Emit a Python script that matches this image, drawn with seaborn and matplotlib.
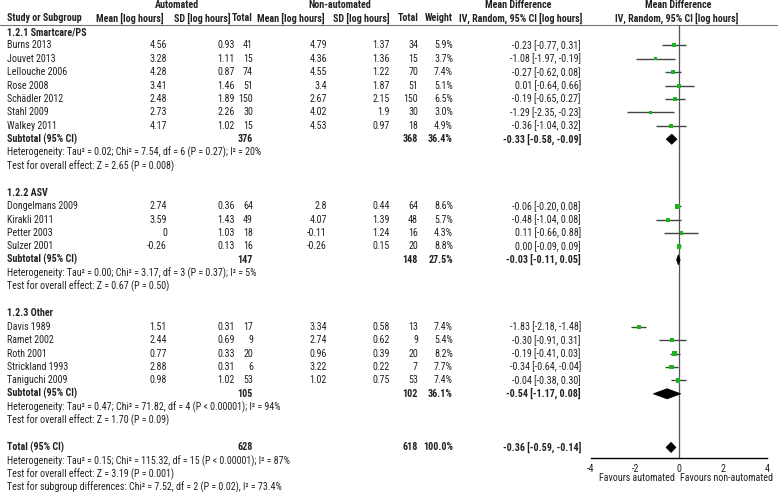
import numpy as np
import pandas as pd
import seaborn as sns
import matplotlib.pyplot as plt
from matplotlib.patches import Polygon
from matplotlib import font_manager

# data
group_names = ["1.2.1 Smartcare/PS", "1.2.2 ASV", "1.2.3 Other"]
group_sizes = [7, 4, 5]
studies = ["Burns 2013", "Jouvet 2013", "Lellouche 2006", "Rose 2008", "Schädler 2012", "Stahl 2009", "Walkey 2011",
           "Dongelmans 2009", "Kirakli 2011", "Petter 2003", "Sulzer 2001",
           "Davis 1989", "Ramet 2002", "Roth 2001", "Strickland 1993", "Taniguchi 2009"]
auto_mean = [4.56, 3.28, 4.28, 3.41, 2.48, 2.73, 4.17, 2.74, 3.59, 0, -0.26, 1.51, 2.44, 0.77, 2.88, 0.98]
auto_sd = [0.93, 1.11, 0.87, 1.46, 1.89, 2.26, 1.02, 0.36, 1.43, 1.03, 0.13, 0.31, 0.69, 0.33, 0.31, 1.02]
auto_n = [41, 15, 74, 51, 150, 30, 15, 64, 49, 18, 16, 17, 9, 20, 6, 53]
non_mean = [4.79, 4.36, 4.55, 3.4, 2.67, 4.02, 4.53, 2.8, 4.07, -0.11, -0.26, 3.34, 2.74, 0.96, 3.22, 1.02]
non_sd = [1.37, 1.36, 1.22, 1.87, 2.15, 1.9, 0.97, 0.44, 1.39, 1.24, 0.15, 0.58, 0.62, 0.39, 0.22, 0.75]
non_n = [34, 15, 70, 51, 150, 30, 18, 64, 48, 16, 20, 13, 9, 20, 7, 53]
weight = [5.9, 3.7, 7.4, 5.1, 6.5, 3.0, 4.9, 8.6, 5.7, 4.3, 8.8, 7.4, 5.4, 8.2, 7.7, 7.4]
md = [-0.23, -1.08, -0.27, 0.01, -0.19, -1.29, -0.36, -0.06, -0.48, 0.11, 0.00, -1.83, -0.30, -0.19, -0.34, -0.04]
md_lo = [-0.77, -1.97, -0.62, -0.64, -0.65, -2.35, -1.04, -0.20, -1.04, -0.66, -0.09, -2.18, -0.91, -0.41, -0.64, -0.38]
md_hi = [0.31, -0.19, 0.08, 0.66, 0.27, -0.23, 0.32, 0.08, 0.08, 0.88, 0.09, -1.48, 0.31, 0.03, -0.04, 0.30]

sub_auto_n = [376, 147, 105]
sub_non_n = [368, 148, 102]
sub_weight = [36.4, 27.5, 36.1]
sub_md = [-0.33, -0.03, -0.54]
sub_lo = [-0.58, -0.11, -1.17]
sub_hi = [-0.09, 0.05, 0.08]
sub_het = ["Heterogeneity: Tau² = 0.02; Chi² = 7.54, df = 6 (P = 0.27); I² = 20%",
           "Heterogeneity: Tau² = 0.00; Chi² = 3.17, df = 3 (P = 0.37); I² = 5%",
           "Heterogeneity: Tau² = 0.47; Chi² = 71.82, df = 4 (P < 0.00001); I² = 94%"]
sub_test = ["Test for overall effect: Z = 2.65 (P = 0.008)",
            "Test for overall effect: Z = 0.67 (P = 0.50)",
            "Test for overall effect: Z = 1.70 (P = 0.09)"]

tot_auto_n, tot_non_n, tot_weight = 628, 618, 100.0
tot_md, tot_lo, tot_hi = -0.36, -0.59, -0.14
tot_notes = ["Heterogeneity: Tau² = 0.15; Chi² = 115.32, df = 15 (P < 0.00001); I² = 87%",
             "Test for overall effect: Z = 3.19 (P = 0.001)",
             "Test for subgroup differences: Chi² = 7.52, df = 2 (P = 0.02), I² = 73.4%"]

x_ticks = [-4, -2, 0, 2, 4]

sns.set_style("white")
names = {f.name for f in font_manager.fontManager.ttflist}
if "Roboto Condensed" in names:
    plt.rcParams['font.family'] = ['Roboto Condensed', 'DejaVu Sans']
    FS = 7.2
else:
    plt.rcParams['font.family'] = ['Liberation Sans', 'DejaVu Sans']
    FS = 6.1
GREEN = "#1db31d"
W, H = 778, 492

# work out which row each thing sits on
study_rows, group_rows, sub_rows = [], [], []
r = 0
for g, n in enumerate(group_sizes):
    group_rows.append(r)
    r += 1
    study_rows += list(range(r, r + n))
    r += n
    sub_rows.append(r)
    r += 4
total_row = r

df = pd.DataFrame({"study": studies, "md": md, "lo": md_lo, "hi": md_hi,
                   "weight": weight, "row": study_rows})

def row_y(i):
    return 32 + 13.4 * i

fig = plt.figure(figsize=(W / 100, H / 100), dpi=100)
tx = fig.add_axes([0, 0, 1, 1])
tx.set_xlim(0, W)
tx.set_ylim(H, 0)
tx.axis("off")

def txt(x, y, s, ha="left", bold=False):
    tx.text(x, y, s, ha=ha, va="center", fontsize=FS, fontweight="bold" if bold else "normal", color="#222222")

# header
txt(177, 5, "Automated", "center", True)
txt(340, 5, "Non-automated", "center", True)
txt(518, 5, "Mean Difference", "center", True)
txt(678, 5, "Mean Difference", "center", True)
txt(7, 18, "Study or Subgroup", bold=True)
txt(164, 18, "Mean [log hours]", "right", True)
txt(231, 18, "SD [log hours]", "right", True)
txt(253, 18, "Total", "right", True)
txt(325, 18, "Mean [log hours]", "right", True)
txt(390, 18, "SD [log hours]", "right", True)
txt(419, 18, "Total", "right", True)
txt(453, 18, "Weight", "right", True)
txt(459, 18, "IV, Random, 95% CI [log hours]", bold=True)
txt(677, 18, "IV, Random, 95% CI [log hours]", "center", True)
tx.axhline(24.5, color="#777777", lw=0.8)

# study rows
for i in range(len(studies)):
    y = row_y(study_rows[i])
    txt(7, y, studies[i])
    txt(167, y, f"{auto_mean[i]:g}", "right")
    txt(235, y, f"{auto_sd[i]:g}", "right")
    txt(253, y, f"{auto_n[i]}", "right")
    txt(327, y, f"{non_mean[i]:g}", "right")
    txt(390, y, f"{non_sd[i]:g}", "right")
    txt(418, y, f"{non_n[i]}", "right")
    txt(453, y, f"{weight[i]:.1f}%", "right")
    txt(581, y, f"{md[i]:.2f} [{md_lo[i]:.2f}, {md_hi[i]:.2f}]", "right")

# subgroup rows
for g in range(len(group_names)):
    txt(7, row_y(group_rows[g]), group_names[g], bold=True)
    y = row_y(sub_rows[g])
    txt(7, y, "Subtotal (95% CI)", bold=True)
    txt(253, y, f"{sub_auto_n[g]}", "right", True)
    txt(418, y, f"{sub_non_n[g]}", "right", True)
    txt(453, y, f"{sub_weight[g]:.1f}%", "right", True)
    txt(581, y, f"{sub_md[g]:.2f} [{sub_lo[g]:.2f}, {sub_hi[g]:.2f}]", "right", True)
    txt(7, row_y(sub_rows[g] + 1), sub_het[g])
    txt(7, row_y(sub_rows[g] + 2), sub_test[g])

y = row_y(total_row)
txt(7, y, "Total (95% CI)", bold=True)
txt(253, y, f"{tot_auto_n}", "right", True)
txt(418, y, f"{tot_non_n}", "right", True)
txt(453, y, f"{tot_weight:.1f}%", "right", True)
txt(581, y, f"{tot_md:.2f} [{tot_lo:.2f}, {tot_hi:.2f}]", "right", True)
for k, note in enumerate(tot_notes):
    txt(7, row_y(total_row + 1 + k), note)

txt(675, 478, "Favours automated", "right")
txt(680, 478, "Favours non-automated", "left")

# forest panel
top_px, bot_px, left_px, right_px = 24.5, 458, 591, 767
ax = fig.add_axes([left_px / W, 1 - bot_px / H, (right_px - left_px) / W, (bot_px - top_px) / H])
ax.set_xlim(x_ticks[0], x_ticks[-1])
ax.set_ylim((bot_px - 32) / 13.4, (top_px - 32) / 13.4)
ax.patch.set_alpha(0)
for s in ["top", "right", "left"]:
    ax.spines[s].set_visible(False)
ax.spines["bottom"].set_color("black")
ax.spines["bottom"].set_linewidth(1.0)
ax.set_yticks([])
ax.set_xticks(x_ticks)
ax.set_xticklabels([f"{t:g}" for t in x_ticks], fontsize=FS, color="#222222")
ax.tick_params(axis="x", direction="inout", length=6, width=1, pad=1)
ax.axvline(0, color="#555555", lw=0.9)

ax.hlines(df["row"], df["lo"], df["hi"], color="#444444", lw=1.0)
sns.scatterplot(data=df, x="md", y="row", size="weight", sizes=(5, 12), marker="s",
                color=GREEN, edgecolor="none", legend=False, ax=ax, zorder=3)

def diamond(row, m, lo, hi):
    h = 0.38
    ax.add_patch(Polygon([(lo, row), (m, row - h), (hi, row), (m, row + h)],
                         closed=True, facecolor="black", edgecolor="black", lw=0.5, zorder=4))

for g in range(len(group_names)):
    diamond(sub_rows[g], sub_md[g], sub_lo[g], sub_hi[g])
diamond(total_row, tot_md, tot_lo, tot_hi)
ax.set_xlabel("")
ax.set_ylabel("")

fig.savefig("out.png", dpi=100)
